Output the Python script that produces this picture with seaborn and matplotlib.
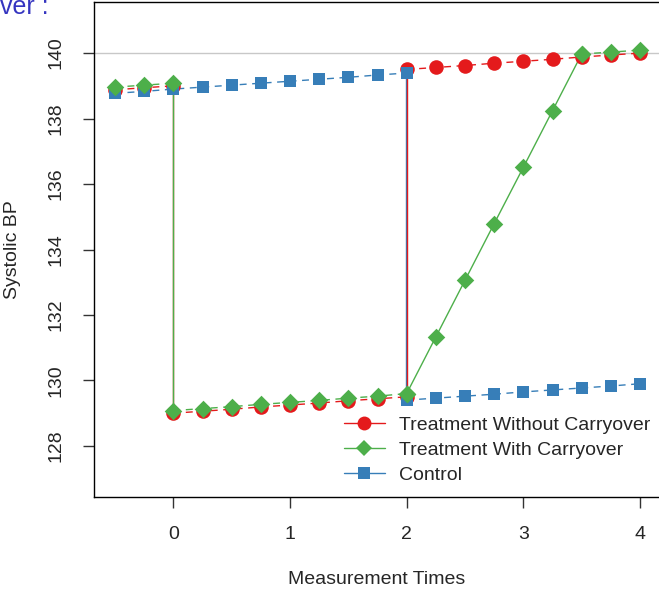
import numpy as np
import pandas as pd
import seaborn as sns
import matplotlib
matplotlib.use("Agg")
import matplotlib.pyplot as plt
from matplotlib.lines import Line2D

# measurement times
t_pre = [-0.5, -0.25, 0.0]
t_first = [0.0, 0.25, 0.5, 0.75, 1.0, 1.25, 1.5, 1.75, 2.0]
t_ctl_first = [-0.5, -0.25, 0.0, 0.25, 0.5, 0.75, 1.0, 1.25, 1.5, 1.75, 2.0]
t_second = [2.0, 2.25, 2.5, 2.75, 3.0, 3.25, 3.5, 3.75, 4.0]
t_ramp = [2.0, 2.25, 2.5, 2.75, 3.0, 3.25, 3.5]
t_tail = [3.5, 3.75, 4.0]

# treatment without carryover
red_pre = [138.88, 138.94, 139.0]
red_first = [129.0, 129.06, 129.12, 129.19, 129.25, 129.31, 129.38, 129.44, 129.5]
red_second = [139.5, 139.56, 139.62, 139.69, 139.75, 139.81, 139.88, 139.94, 140.0]

# treatment with carryover
green_pre = [138.96, 139.02, 139.08]
green_first = [129.08, 129.14, 129.2, 129.27, 129.33, 129.39, 129.46, 129.52, 129.6]
green_ramp = [129.6, 131.33, 133.06, 134.79, 136.51, 138.24, 139.97]
green_tail = [139.97, 140.03, 140.09]

# control
blue_first = [138.77, 138.83, 138.9, 138.96, 139.02, 139.08, 139.14, 139.2, 139.26, 139.33, 139.39]
blue_second = [129.4, 129.46, 129.52, 129.58, 129.65, 129.71, 129.77, 129.83, 129.9]

labels = ["Treatment Without Carryover", "Treatment With Carryover", "Control"]
red, green, blue = "#E41A1C", "#4DAF4A", "#377EB8"

sns.set_style("white")
plt.rcParams["font.family"] = ["Liberation Sans", "DejaVu Sans"]
fs = 14

fig = plt.figure(figsize=(6.59, 5.92), dpi=100)
ax = fig.add_axes([94 / 659, 1 - 497 / 592, 567 / 659, 495 / 592])

ax.axhline(140, color="#c8c8c8", lw=1, zorder=1)

dash = (5, 4)


def seg(x, y, color, dashed, z=2):
    sns.lineplot(x=x, y=y, ax=ax, color=color, lw=1, sort=False, estimator=None,
                 dashes=False, zorder=z)
    if dashed:
        ax.lines[-1].set_dashes(dash)


def pts(x, y, color, marker, size, z=3):
    sns.scatterplot(x=x, y=y, ax=ax, color=color, marker=marker, s=size,
                    linewidth=0, zorder=z)


# red series
seg(t_pre, red_pre, red, True)
seg([0, 0], [red_pre[-1], red_first[0]], red, False)
seg(t_first, red_first, red, True)
seg([2, 2], [red_first[-1], red_second[0]], red, False, z=2.2)
seg(t_second, red_second, red, True)
pts(t_pre + t_first + t_second, red_pre + red_first + red_second, red, "o", 110)

# blue series
seg(t_ctl_first, blue_first, blue, True)
seg([1.995, 1.995], [blue_first[-1], blue_second[0]], blue, False)
seg(t_second, blue_second, blue, True)
pts(t_ctl_first + t_second, blue_first + blue_second, blue, "s", 75)

# green series
seg(t_pre, green_pre, green, True)
seg([0, 0], [green_pre[-1], green_first[0]], green, False, z=2.3)
seg(t_first, green_first, green, True)
seg(t_ramp, green_ramp, green, False)
seg(t_tail, green_tail, green, True)
pts(t_pre + t_first + t_ramp + t_tail, green_pre + green_first + green_ramp + green_tail,
    green, "D", 80, z=3.5)

ax.set_xlim(-0.68, 4.18)
ax.set_ylim(126.44, 141.56)
ax.set_xticks([0, 1, 2, 3, 4])
ax.set_yticks([128, 130, 132, 134, 136, 138, 140])
ax.tick_params(axis="both", direction="out", length=8, width=1, color="#333333",
               labelsize=fs, pad=13, left=True, bottom=True)
for lab in ax.get_yticklabels():
    lab.set_rotation(90)
    lab.set_va("center")
for sp in ax.spines.values():
    sp.set_color("black")
    sp.set_linewidth(1)

ax.set_xlabel("")
ax.set_ylabel("")
fig.text(377 / 659, 1 - 580 / 592, "Measurement Times", ha="center", va="center", fontsize=fs)
fig.text(13 / 659, 1 - 250 / 592, "Systolic BP", ha="center", va="center", rotation=90, fontsize=fs)
fig.text(0, 1 - 14 / 592, "ver :", ha="left", va="baseline", fontsize=18, color="#3535c0")

handles = [
    Line2D([], [], color=red, lw=1, marker="o", markersize=10, markeredgewidth=0),
    Line2D([], [], color=green, lw=1, marker="D", markersize=8, markeredgewidth=0),
    Line2D([], [], color=blue, lw=1, marker="s", markersize=8, markeredgewidth=0),
]
ax.legend(handles, labels, loc="upper left", bbox_to_anchor=(344 / 659, 1 - 416 / 592),
          bbox_transform=fig.transFigure, frameon=False, fontsize=fs,
          handlelength=2.1, handletextpad=0.75, labelspacing=0.38, borderpad=0,
          borderaxespad=0)

fig.savefig("out.png", dpi=100)
